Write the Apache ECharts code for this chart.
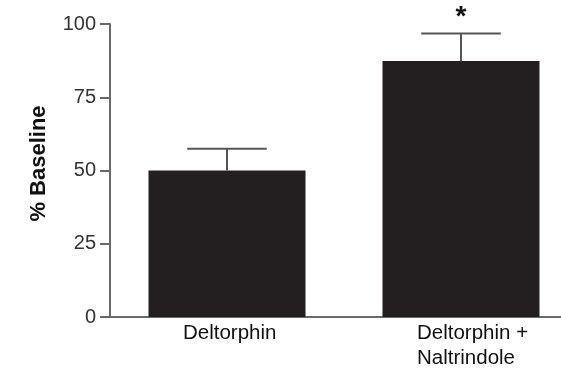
<!DOCTYPE html>
<html>
<head>
<meta charset="utf-8">
<script src="https://cdn.jsdelivr.net/npm/echarts@6/dist/echarts.min.js"></script>
<style>
html,body{margin:0;padding:0;background:#fff;}
#chart{width:561px;height:371px;}
</style>
</head>
<body>
<div id="chart"></div>
<script>
var categories = ['Deltorphin', 'Deltorphin +\nNaltrindole'];
var means = [50, 87.4];
var errorUpper = [57.4, 96.8];
var significance = ['', '*'];
var yTicks = [0, 25, 50, 75, 100];

var chart = echarts.init(document.getElementById('chart'), null, {renderer: 'canvas'});

var errData = categories.map(function (c, i) { return [i, means[i], errorUpper[i]]; });

var option = {
  animation: false,
  backgroundColor: '#ffffff',
  grid: {left: 110, width: 468, top: 24, bottom: 54, containLabel: false, outerBoundsMode: 'none'},
  xAxis: {
    type: 'category',
    data: categories,
    boundaryGap: true,
    axisLine: {show: true, lineStyle: {color: '#6a6a6a', width: 2}},
    axisTick: {show: false},
    axisLabel: {
      margin: 4,
      interval: 0,
      hideOverlap: false,
      formatter: function (v) {
        return v.split('\n').map(function (s) { return '{a|' + s + '}'; }).join('\n');
      },
      rich: {
        a: {width: 88, align: 'left', fontSize: 20.5, lineHeight: 25, color: '#111', fontFamily: 'Liberation Sans, Arial, sans-serif'}
      }
    }
  },
  yAxis: {
    type: 'value',
    min: yTicks[0],
    max: yTicks[yTicks.length - 1],
    interval: 25,
    name: '% Baseline',
    nameLocation: 'middle',
    nameGap: 60,
    nameTextStyle: {fontSize: 22, fontWeight: 'bold', color: '#111', fontFamily: 'Liberation Sans, Arial, sans-serif', padding: [0, 0, 0, 14]},
    axisLine: {show: true, lineStyle: {color: '#6a6a6a', width: 2}},
    axisTick: {show: true, length: 10, lineStyle: {color: '#6a6a6a', width: 2}},
    axisLabel: {margin: 14, fontSize: 20, color: '#333', fontFamily: 'Liberation Sans, Arial, sans-serif'},
    splitLine: {show: false}
  },
  series: [
    {
      type: 'bar',
      data: means,
      barWidth: 157,
      itemStyle: {color: '#231f20'},
      z: 2
    },
    {
      type: 'custom',
      data: errData,
      z: 3,
      renderItem: function (params, api) {
        var i = api.value(0);
        var base = api.coord([i, api.value(1)]);
        var top = api.coord([i, api.value(2)]);
        var half = api.size([1, 0])[0] * 0.17;
        var st = {stroke: '#555', lineWidth: 2};
        var children = [
          {type: 'line', shape: {x1: base[0], y1: base[1], x2: top[0], y2: top[1]}, style: st},
          {type: 'line', shape: {x1: top[0] - half, y1: top[1], x2: top[0] + half, y2: top[1]}, style: st}
        ];
        if (significance[i]) {
          children.push({
            type: 'text',
            style: {
              text: significance[i], x: top[0], y: top[1] - 16,
              align: 'center', verticalAlign: 'middle',
              font: 'bold 28px "Liberation Sans", Arial, sans-serif', fill: '#111'
            }
          });
        }
        return {type: 'group', children: children};
      }
    }
  ]
};
chart.setOption(option);
</script>
</body>
</html>
